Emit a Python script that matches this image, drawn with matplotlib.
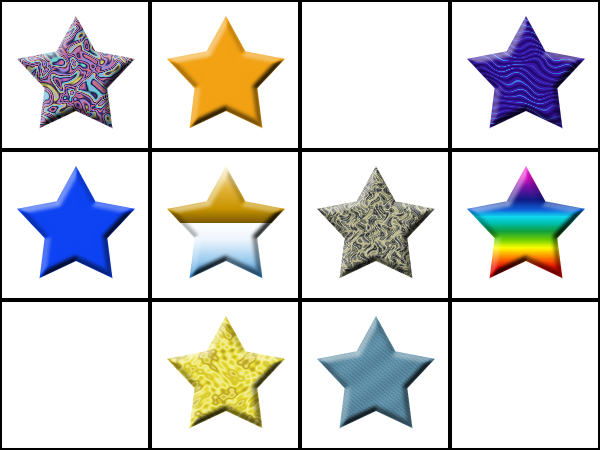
import numpy as np
import matplotlib
matplotlib.use("Agg")
import matplotlib.pyplot as plt
from matplotlib import colors
from matplotlib.path import Path

n_rows, n_cols = 3, 4
cell = 150

# what sits in each cell, row by row (None = empty cell)
fills = ["marble", "orange", None, "violet",
         "blue", "gold_sky", "granite", "rainbow",
         None, "yellow", "denim", None]

solid = {"orange": "#f2a212", "blue": "#0e43f4"}

rainbow_pos = [0.0, 0.10, 0.18, 0.30, 0.39, 0.45, 0.51, 0.58, 0.66, 0.73, 0.81, 0.90, 1.0]
rainbow_col = ["#f050d8", "#e010c8", "#7a10a8", "#101a84", "#1060d8", "#10d8f0", "#00c0b0",
               "#10a040", "#70d000", "#ffff00", "#ff8a00", "#f01000", "#c00000"]

marble_col = ["#9090e0", "#24184e", "#e27c80", "#8a5cb8", "#1e1440", "#62d6d4",
              "#a0a0e8", "#d4d060", "#2a2050", "#d06c98", "#9090e0"]
granite_col = ["#2c2c28", "#6c7080", "#a8a676", "#ccc9a8", "#5c5e50", "#8e9080", "#2c2c28"]
yellow_col = ["#b8a224", "#e2d628", "#f4f0a0", "#e8dc34", "#d2c42a", "#f0e670", "#b8a224"]

# star shape (pixels, inside one cell)
cx, cy, R_out, R_in = 76.0, 78.0, 62.0, 33.0


def star_sdf(X, Y):
    ang = np.deg2rad(90 + 36 * np.arange(10))
    rad = np.where(np.arange(10) % 2 == 0, R_out, R_in)
    vx = cx + rad * np.cos(ang)
    vy = cy - rad * np.sin(ang)
    verts = np.column_stack([vx, vy])
    P = np.column_stack([X.ravel(), Y.ravel()])
    d = np.full(P.shape[0], np.inf)
    for i in range(10):
        A = verts[i]
        B = verts[(i + 1) % 10]
        AB = B - A
        t = np.clip(((P - A) @ AB) / (AB @ AB), 0, 1)
        proj = A + t[:, None] * AB
        d = np.minimum(d, np.hypot(*(P - proj).T))
    inside = Path(np.vstack([verts, verts[:1]])).contains_points(P)
    return np.where(inside, d, -d).reshape(X.shape)


def blur(a, sig):
    i = np.arange(a.shape[0])
    K = np.exp(-(i[:, None] - i[None, :]) ** 2 / (2 * sig ** 2))
    K /= K.sum(axis=1, keepdims=True)
    return K @ a @ K.T


def cmap_img(v, cols):
    cm = colors.LinearSegmentedColormap.from_list("c", cols)
    return cm(v)[..., :3]


def tex_marble(X, Y):
    wx = X + 5 * np.sin(Y * 0.17 + 1.1 * np.cos(X * 0.12))
    wy = Y + 5 * np.cos(X * 0.15 - 0.8 * np.sin(Y * 0.1))
    q = np.sin(wx * 0.19 + 1.3 * np.sin(wy * 0.14)) + np.sin(wy * 0.21 + 1.5 * np.cos(wx * 0.12 + wy * 0.05))
    q += 0.5 * np.sin(wx * 0.33 - wy * 0.26) + 0.3 * np.sin(wx * 0.45 + wy * 0.4)
    v = (q * 0.4) % 1.0
    return cmap_img(v, marble_col)


def tex_violet(X, Y):
    wx = X + 4 * np.sin(Y * 0.2)
    ph = (Y - 0.25 * X + 3.0 * np.sin(wx / 7.0 + Y / 23.0) + 2.5 * np.sin((X + 2 * Y) / 15.0)
          + 1.5 * np.sin(X / 4.5 - Y / 11.0)) / 6.0 * 2 * np.pi
    w = np.sin(ph)
    hl = np.sin(X * 0.11 - Y * 0.07) * 0.5 + 0.5
    base = np.array(colors.to_rgb("#3814a4"))
    dark = np.array(colors.to_rgb("#1c0660"))
    light = np.array(colors.to_rgb("#3c8ae8"))
    img = np.ones(X.shape + (3,)) * base
    a = (np.clip((w - 0.8) / 0.2, 0, 1) * (0.3 + 0.7 * hl))[..., None]
    b = np.clip((-w - 0.1) / 0.9, 0, 1)[..., None] * 0.85
    img = img * (1 - a) + light * a
    img = img * (1 - b) + dark * b
    return img


def tex_granite(X, Y):
    wx = X + 3 * np.sin(Y * 0.37 + np.sin(X * 0.21))
    wy = Y + 3 * np.cos(X * 0.33 - np.sin(Y * 0.17))
    g = (np.sin(0.5 * wx + 0.2 * wy + 1.5 * np.sin(0.17 * wy - 0.25 * wx))
         + np.sin(0.38 * wy - 0.45 * wx + 1.5 * np.cos(0.24 * wx + 0.1 * wy))
         + 0.6 * np.sin(1.0 * wx + 0.7 * wy) + 0.5 * np.sin(0.13 * X - 0.1 * Y))
    v = (g * 0.24 + 0.5) % 1.0
    return cmap_img(v, granite_col)


def tex_yellow(X, Y):
    wx = X + 5 * np.sin(Y * 0.13)
    wy = Y + 5 * np.cos(X * 0.11)
    q = (np.sin(0.16 * wx + 1.5 * np.sin(0.12 * wy)) + np.sin(0.19 * wy + 1.2 * np.cos(0.14 * wx))
         + 0.5 * np.sin(0.5 * wx - 0.4 * wy) + 0.4 * np.sin(0.7 * wy + 0.35 * wx))
    v = (q * 0.25 + 0.3) % 1.0
    return cmap_img(v, yellow_col)


def tex_denim(X, Y):
    base = np.array(colors.to_rgb("#5b8ba3"))
    s = 0.35 * np.sin((X - 1.2 * Y) * 1.3 + 0.8 * np.sin(0.9 * (X + Y))) + 0.25 * np.sin(2.3 * X + 1.9 * Y)
    s += 0.25 * np.sin(0.15 * X + 0.2 * Y)
    return np.clip(base + s[..., None] * np.array([0.08, 0.1, 0.1]), 0, 1)


def tex_rainbow(X, Y):
    v = np.clip((Y - (cy - R_out)) / (R_out * 1.81), 0, 1)
    cm = colors.LinearSegmentedColormap.from_list("rb", list(zip(rainbow_pos, rainbow_col)))
    return cm(v)[..., :3]


def tex_gold_sky(X, Y):
    top = colors.LinearSegmentedColormap.from_list(
        "g", [(0, "#fbf3d8"), (0.4, "#e2b43a"), (0.75, "#c89400"), (1, "#7a5a00")])
    bot = colors.LinearSegmentedColormap.from_list(
        "s", [(0, "#ffffff"), (0.3, "#eef6fd"), (0.7, "#96c8ee"), (1, "#2a82c4")])
    split = 73.0
    vt = np.clip((Y - (cy - R_out)) / (split - (cy - R_out)), 0, 1)
    vb = np.clip((Y - split) / (cy + R_out * 0.81 - split), 0, 1)
    return np.where((Y < split)[..., None], top(vt)[..., :3], bot(vb)[..., :3])


textures = {"marble": tex_marble, "violet": tex_violet, "granite": tex_granite,
            "yellow": tex_yellow, "denim": tex_denim, "rainbow": tex_rainbow,
            "gold_sky": tex_gold_sky}

yy, xx = np.mgrid[0:cell, 0:cell] + 0.5
sd = star_sdf(xx, yy)
alpha = np.clip(sd + 0.5, 0, 1)[..., None]

# soft bevel lighting, light from the upper left
bw = 7.0
u = np.clip(sd / bw, 0, 1)
h = blur(np.sin(0.5 * np.pi * u), 1.3)
hy, hx = np.gradient(h)
k = 3.4
n = np.dstack([-k * hx, -k * hy, np.ones_like(h)])
n /= np.linalg.norm(n, axis=2, keepdims=True)
L = np.array([-0.5, -0.8, 0.7])
L /= np.linalg.norm(L)
s = (n @ L) / L[2]

img = np.ones((n_rows * cell, n_cols * cell, 3))
for i, f in enumerate(fills):
    if f is None:
        continue
    r, c = divmod(i, n_cols)
    if f in solid:
        col = np.ones((cell, cell, 3)) * np.array(colors.to_rgb(solid[f]))
    else:
        col = textures[f](xx, yy)
    lit = np.where((s >= 1)[..., None],
                   col + (1 - col) * np.clip((s - 1) * 0.9, 0, 1)[..., None],
                   col * (0.05 + 0.95 * np.clip(s, 0, 1))[..., None])
    tile = (1 - alpha) + lit * alpha
    img[r * cell:(r + 1) * cell, c * cell:(c + 1) * cell] = tile

fig = plt.figure(figsize=(6, 4.5), dpi=100)
ax = fig.add_axes([0, 0, 1, 1])
ax.imshow(img, extent=(0, n_cols * cell, n_rows * cell, 0), interpolation="nearest")
for x in range(n_cols + 1):
    ax.axvline(x * cell, color="black", lw=2.9)
for y in range(n_rows + 1):
    ax.axhline(y * cell, color="black", lw=2.9)
ax.set_xlim(0, n_cols * cell)
ax.set_ylim(n_rows * cell, 0)
ax.axis("off")
fig.savefig("out.png", dpi=100)
